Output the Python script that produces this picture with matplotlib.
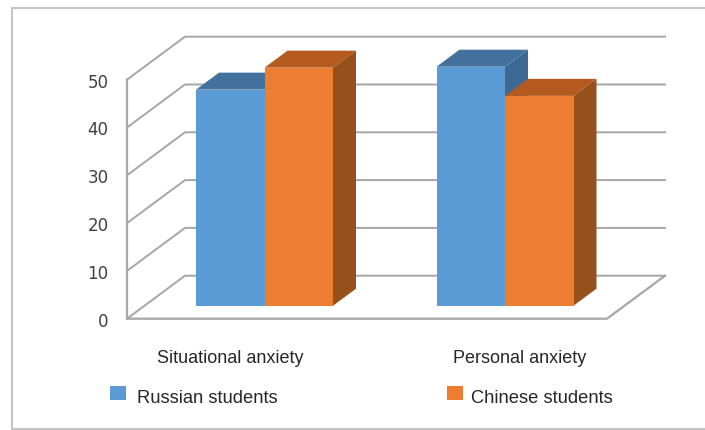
import matplotlib
matplotlib.use("Agg")
import matplotlib.pyplot as plt
from matplotlib.patches import Polygon, Rectangle

categories = ["Situational anxiety", "Personal anxiety"]
series_names = ["Russian students", "Chinese students"]
russian = [45.2, 50.0]
chinese = [49.8, 43.9]
y_ticks = [0, 10, 20, 30, 40, 50]

colors = {"Russian students": ("#5B9BD5", "#41719C", "#3D6A94"),
          "Chinese students": ("#ED7D31", "#B55A1F", "#95501B")}

W, H = 705, 431
GRID = "#A6A6A6"
BORDER = "#C4C4C4"
TEXT = "#262626"

# pixels per data unit on both axes; group centres are one unit apart
PX_X = 240.5
PX_Y = 4.78
BAR_W = 68.5 / PX_X
X0_PX = 264.5
Y0_PX = 319.7


def xpos(px):
    return (px - X0_PX) / PX_X


def ypos(px):
    return (Y0_PX - px) / PX_Y


fig = plt.figure(figsize=(W / 100, H / 100), dpi=100)
ax = fig.add_axes([0, 0, 1, 1])
ax.set_xlim(xpos(0), xpos(W))
ax.set_ylim(ypos(H), ypos(0))
ax.axis("off")

# oblique offsets used to fake the 3d look
floor_dx, floor_dy = 58 / PX_X, 43 / PX_Y
bar_dx, bar_dy = 23 / PX_X, 17 / PX_Y
lift_y = 13 / PX_Y

left = xpos(127)
right_front = xpos(607)

# frame round the chart area, open on the right
ax.plot([xpos(W), xpos(12), xpos(12), xpos(W)],
        [ypos(9), ypos(9), ypos(430), ypos(430)], color=BORDER, lw=1.5, zorder=1)

# walls, gridlines and floor
for tick in y_ticks:
    ax.plot([left, left + floor_dx, right_front + floor_dx],
            [tick, tick + floor_dy, tick + floor_dy], color=GRID, lw=1.4,
            solid_joinstyle="miter", zorder=1)
    ax.text(xpos(108.5), tick - 0.4, str(tick), ha="right", va="center",
            fontsize=12, family="DejaVu Sans", color="#404040")
ax.plot([left, left, right_front, right_front + floor_dx],
        [50, 0, 0, floor_dy], color=GRID, lw=1.6, solid_joinstyle="miter", zorder=1)


def draw_bar(x0, value, shades, depth_order):
    front, top, side = shades
    x1 = x0 + BAR_W
    y0 = lift_y
    y1 = lift_y + value
    ax.add_patch(Polygon([(x0, y1), (x0 + bar_dx, y1 + bar_dy),
                          (x1 + bar_dx, y1 + bar_dy), (x1, y1)],
                         fc=top, ec="none", zorder=depth_order))
    ax.add_patch(Polygon([(x1, y0), (x1 + bar_dx, y0 + bar_dy),
                          (x1 + bar_dx, y1 + bar_dy), (x1, y1)],
                         fc=side, ec="none", zorder=depth_order))
    ax.add_patch(Rectangle((x0, y0), BAR_W, value, fc=front, ec="none", zorder=5))


# the bars stand part way back on the floor
for i in range(len(categories)):
    draw_bar(i - BAR_W, russian[i], colors[series_names[0]], 3)
    draw_bar(i, chinese[i], colors[series_names[1]], 4)

for name, x_px in zip(categories, [230, 520]):
    ax.text(xpos(x_px), ypos(358.5), name, ha="center", va="center", fontsize=13,
            family="Liberation Sans", color=TEXT)

# legend
for key, box_px, text_px in zip(series_names, [110, 447], [137, 471]):
    ax.add_patch(Rectangle((xpos(box_px), ypos(401)), 16 / PX_X, 14 / PX_Y,
                           fc=colors[key][0], ec="none"))
    ax.text(xpos(text_px), ypos(399), key, ha="left", va="center",
            fontsize=13.2, family="Liberation Sans", color=TEXT)

fig.savefig("out.png", dpi=100)
